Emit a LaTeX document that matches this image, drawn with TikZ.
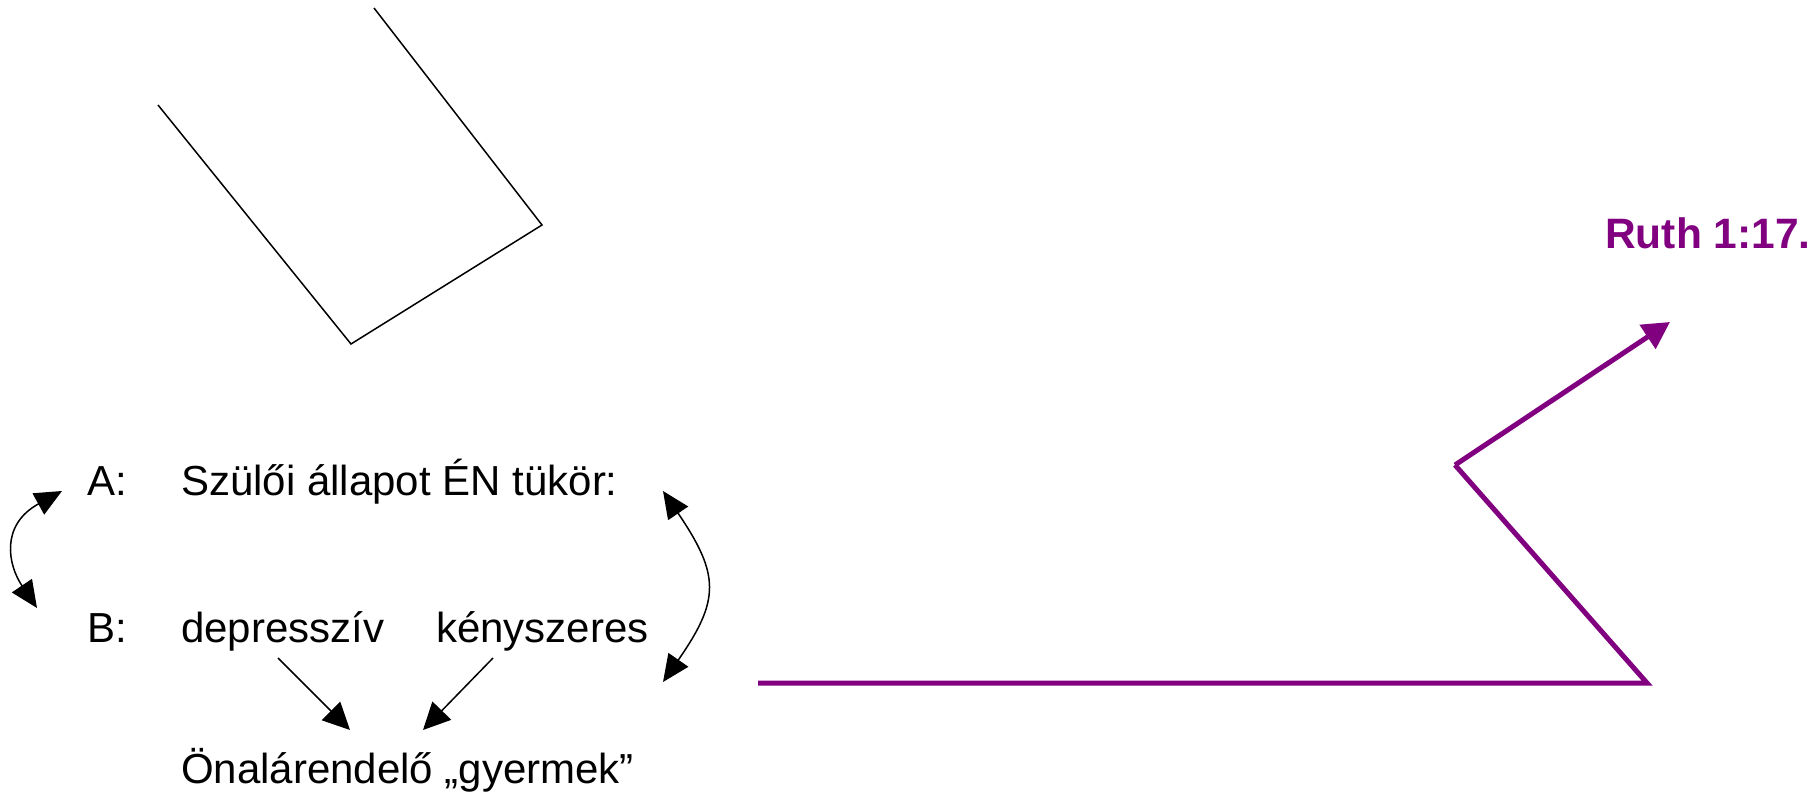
\documentclass[tikz,border=0pt]{standalone}
\usepackage{fontspec}
\setmainfont{Liberation Sans}
\usetikzlibrary{arrows.meta}
\definecolor{ruthpurple}{HTML}{800080}
\tikzset{
  lbl/.style={inner sep=0pt, anchor=base west, font=\fontsize{42pt}{50pt}\selectfont},
  ref/.style={inner sep=0pt, anchor=base west, font=\fontsize{42.5pt}{50pt}\selectfont\bfseries, text=ruthpurple},
  thin/.style={line width=1.5pt, black},
  blk/.style={line width=1.5pt, black, -{Triangle[length=27pt,width=26pt]}},
  blk2/.style={line width=1.5pt, black, {Triangle[length=27pt,width=24pt]}-{Triangle[length=27pt,width=24pt]}},
  prp/.style={line width=5pt, ruthpurple, line join=miter},
}
\begin{document}
\begin{tikzpicture}[x=1pt,y=-1pt]
\useasboundingbox (0,0) rectangle (1820,802);
% black open polyline (top left)
\coordinate (p1) at (158,105);
\coordinate (p2) at (351,344);
\coordinate (p3) at (542,225);
\coordinate (p4) at (374,8);
\draw[thin, line join=miter] (p1) -- (p2) -- (p3) -- (p4);
% texts
\node[lbl] (A) at (87,495) {A:};
\node[lbl] (Atxt) at (181,495) {Szülői állapot ÉN tükör:};
\node[lbl] (B) at (87,642) {B:};
\node[lbl] (dep) at (181,642) {depresszív};
\node[lbl] (keny) at (436,642) {kényszeres};
\node[lbl] (on) at (181,783) {Önalárendelő „gyermek”};
\node[ref] (ruth) at (1605,249) {Ruth 1:17.};
% arrow end points
\coordinate (lb) at (37,608);
\coordinate (lt) at (62,491);
\coordinate (rb) at (663,682);
\coordinate (rt) at (663,491);
\coordinate (d1) at (278,658);
\coordinate (d2) at (350,730);
\coordinate (k1) at (493,658);
\coordinate (k2) at (423,730);
\draw[blk2] (lb) .. controls (8,565) and (0,525) .. (lt);
\draw[blk2] (rb) .. controls (720,600) and (720,575) .. (rt);
\draw[blk] (d1) -- (d2);
\draw[blk] (k1) -- (k2);
% purple path
\coordinate (q1) at (758,683);
\coordinate (q2) at (1647,683);
\coordinate (q3) at (1455,465);
\coordinate (q4) at (1670,322);
\draw[prp] (q1) -- (q2) -- (q3);
\draw[prp, -{Triangle[length=27pt,width=28pt]}] (q3) -- (q4);
\end{tikzpicture}
\end{document}
